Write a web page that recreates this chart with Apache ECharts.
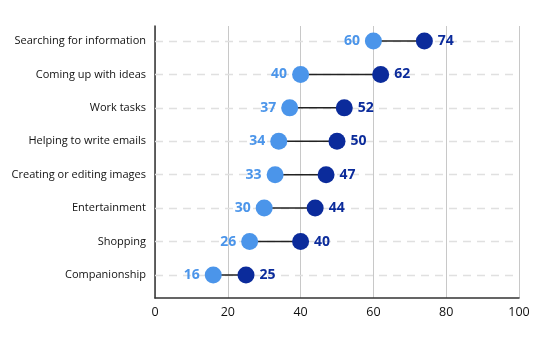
<!DOCTYPE html>
<html><head><meta charset="utf-8">
<script src="https://cdn.jsdelivr.net/npm/echarts@6/dist/echarts.min.js"></script>
<style>html,body{margin:0;padding:0;background:#fff}#c{width:540px;height:340px}</style>
</head><body><div id="c"></div>
<script>
var categories = ["Searching for information","Coming up with ideas","Work tasks","Helping to write emails","Creating or editing images","Entertainment","Shopping","Companionship"];
var lowValues = [60,40,37,34,33,30,26,16];
var highValues = [74,62,52,50,47,44,40,25];
var xTicks = [0,20,40,60,80,100];

var n = categories.length;
var lightC = '#4b95ea', darkC = '#0b2b9b';
var lowData = lowValues.map(function(v,i){return [v, n-1-i];});
var highData = highValues.map(function(v,i){return [v, n-1-i];});
var connData = lowValues.map(function(v,i){return [v, highValues[i], n-1-i];});
var idx = categories.map(function(c,i){return i;});

var chart = echarts.init(document.getElementById('c'), null, {renderer:'canvas'});
chart.setOption({
  animation:false,
  grid:{left:155,right:21,top:26,bottom:42},
  xAxis:{type:'value',min:0,max:100,interval:20,
    axisLine:{show:true,onZero:false,lineStyle:{color:'#333',width:1.5}},
    axisTick:{show:false},
    axisLabel:{color:'#111',fontSize:12.5,fontFamily:'Open Sans',margin:8,customValues:xTicks},
    splitLine:{show:true,lineStyle:{color:'#c8c8c8',width:1}}},
  yAxis:{type:'value',min:-0.69,max:7.45,
    axisLine:{show:true,onZero:false,lineStyle:{color:'#333',width:1.5}},
    axisTick:{show:false},
    splitLine:{show:false},
    axisLabel:{customValues:idx,color:'#111',fontSize:11,fontFamily:'Open Sans',margin:9,
      formatter:function(v){var k=Math.round(v);return categories[n-1-k]||'';}}},
  series:[
    {type:'custom',z:2,data:connData,
      renderItem:function(params,api){
        var a=api.coord([api.value(0),api.value(2)]);
        var b=api.coord([api.value(1),api.value(2)]);
        return {type:'line',shape:{x1:a[0],y1:a[1],x2:b[0],y2:b[1]},style:{stroke:'#222',lineWidth:1.5}};
      },
      markLine:{silent:true,symbol:'none',label:{show:false},z:1,
        lineStyle:{color:'#e0e0e0',type:[8,6],width:1.3},
        data:idx.map(function(i){return {yAxis:i};})}
    },
    {type:'scatter',z:3,data:lowData,symbolSize:17,itemStyle:{color:lightC,opacity:1},
      label:{show:true,position:'left',distance:5,color:lightC,fontSize:14,fontWeight:'bold',fontFamily:'Open Sans',
        formatter:function(p){return p.value[0];}}},
    {type:'scatter',z:3,data:highData,symbolSize:17,itemStyle:{color:darkC,opacity:1},
      label:{show:true,position:'right',distance:5,color:darkC,fontSize:14,fontWeight:'bold',fontFamily:'Open Sans',
        formatter:function(p){return p.value[0];}}}
  ]
});
</script></body></html>
